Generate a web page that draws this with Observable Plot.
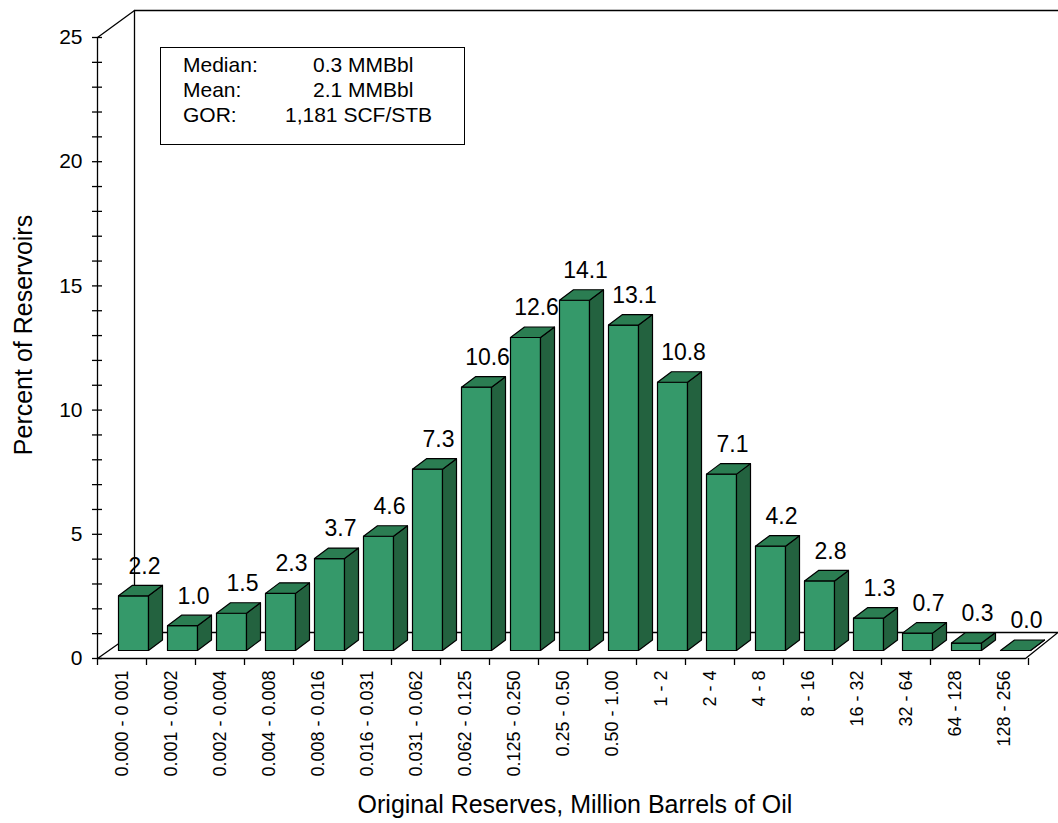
<!DOCTYPE html>
<html><head><meta charset="utf-8">
<script src="https://cdn.jsdelivr.net/npm/d3@7"></script>
<script src="https://cdn.jsdelivr.net/npm/@observablehq/plot@0.6"></script>
<style>
body{margin:0;background:#fff;font-family:"Liberation Sans",Arial,sans-serif;}
#wrap{position:relative;width:1058px;height:823px;}
#chart{position:absolute;left:0;top:0;}
.ov{position:absolute;color:#000;}
#stats{left:160px;top:47px;width:305px;height:98px;border:1.5px solid #000;font-size:21px;line-height:25px;padding-top:4px;box-sizing:border-box;background:#fff;}
#stats div{position:relative;height:25px;}
#stats span{position:absolute;}
</style></head><body>
<div id="wrap">
<div id="chart"></div>
<div class="ov" id="stats">
  <div><span style="left:22px">Median:</span><span style="left:152px">0.3 MMBbl</span></div>
  <div><span style="left:22px">Mean:</span><span style="left:152px">2.1 MMBbl</span></div>
  <div><span style="left:22px">GOR:</span><span style="left:124px">1,181 SCF/STB</span></div>
</div>
<div class="ov" style="left:9px;top:335px;width:0;height:0;">
  <div style="position:absolute;left:0;top:0;transform:translate(-50%,-50%) rotate(-90deg);translate:14px 0;white-space:nowrap;font-size:25px;">Percent of Reservoirs</div>
</div>
<div class="ov" style="left:0;width:1150px;top:790px;text-align:center;font-size:25px;">Original Reserves, Million Barrels of Oil</div>
</div>
<script>
const categories = ["0.000 - 0 001","0.001 - 0.002","0.002 - 0.004","0.004 - 0.008","0.008 - 0.016","0.016 - 0.031","0.031 - 0.062","0.062 - 0.125","0.125 - 0.250","0.25 - 0.50","0.50 - 1.00","1 - 2","2 - 4","4 - 8","8 - 16","16 - 32","32 - 64","64 - 128","128 - 256"];
const values = [2.2,1.0,1.5,2.3,3.7,4.6,7.3,10.6,12.6,14.1,13.1,10.8,7.1,4.2,2.8,1.3,0.7,0.3,0.0];
const yTicks = [0,5,10,15,20,25];

// pixel geometry expressed in data units
const PX = 49, PY = 24.84;
const bx0 = -3.5/PX, bx1 = 26.5/PX;    // bar front left/right offset from slot centre
const ddx = 14/PX, ddy = 10.5/PY;      // bar depth
const base = 8/PY;                     // bar front base above floor edge
const fdx = 37/PX, fdy = 26/PY;        // floor depth
const xL = -0.5, xR = 18.44, xMax = (1058-121.5)/PX;
const yTop = 648/PY;

const faceFront = [], faceSide = [], faceTop = [];
values.forEach((v, i) => {
  const a = i + bx0, b = i + bx1, y0 = base, y1 = base + v;
  faceFront.push({id:i,x:a,y:y0},{id:i,x:b,y:y0},{id:i,x:b,y:y1},{id:i,x:a,y:y1});
  faceSide.push({id:i,x:b,y:y0},{id:i,x:b+ddx,y:y0+ddy},{id:i,x:b+ddx,y:y1+ddy},{id:i,x:b,y:y1});
  faceTop.push({id:i,x:a,y:y1},{id:i,x:b,y:y1},{id:i,x:b+ddx,y:y1+ddy},{id:i,x:a+ddx,y:y1+ddy});
});
const labels = values.map((v, i) => ({x: i + (bx0+bx1+ddx)/2, y: base + v + ddy, t: v.toFixed(1)}));

const frame = [
  [[xL,0],[xR,0],[xMax-0.01,fdy],[xL+fdx,fdy],[xL,0]],
  [[xL,0],[xL,25],[xL+fdx,yTop],[xMax,yTop]],
  [[xL+fdx,fdy],[xL+fdx,yTop]]
];

const chart = Plot.plot({
  width: 1058, height: 823,
  marginLeft: 0, marginRight: 0, marginTop: 0, marginBottom: 0,
  x: {domain: [-121.5/PX, xMax], axis: null},
  y: {domain: [-165/PY, 658/PY], axis: null},
  style: {fontFamily: "Liberation Sans, Arial, sans-serif", color: "#000"},
  marks: [
    frame.map(f => Plot.line(f, {stroke: "#000", strokeWidth: 1.3})),
    Plot.ruleY(d3.range(0, 26), {x1: xL - 5/PX, x2: xL + 5/PX, stroke: "#000", strokeWidth: 1.3}),
    Plot.text(yTicks, {x: xL, y: d => d, text: d => String(d), dx: -15, textAnchor: "end", fontSize: 21}),
    Plot.ruleX(d3.range(0, 20), {x: d => d - 0.5, y1: 0, y2: -7/PY, stroke: "#000", strokeWidth: 1.3}),
    Plot.text(categories, {x: (d, i) => i, y: 0, text: d => d, rotate: -90, dy: 12, textAnchor: "end", fontSize: 18}),
    Plot.line(faceFront, {x: "x", y: "y", z: "id", fill: "#35996a", stroke: "#000", strokeWidth: 1.2, curve: "linear-closed"}),
    Plot.line(faceSide, {x: "x", y: "y", z: "id", fill: "#23623f", stroke: "#000", strokeWidth: 1.2, curve: "linear-closed"}),
    Plot.line(faceTop, {x: "x", y: "y", z: "id", fill: "#2b7d52", stroke: "#000", strokeWidth: 1.2, curve: "linear-closed"}),
    Plot.text(labels, {x: "x", y: "y", text: "t", dy: -19, dx: 4, fontSize: 23})
  ]
});
document.getElementById("chart").appendChild(chart);
</script>
</body></html>
